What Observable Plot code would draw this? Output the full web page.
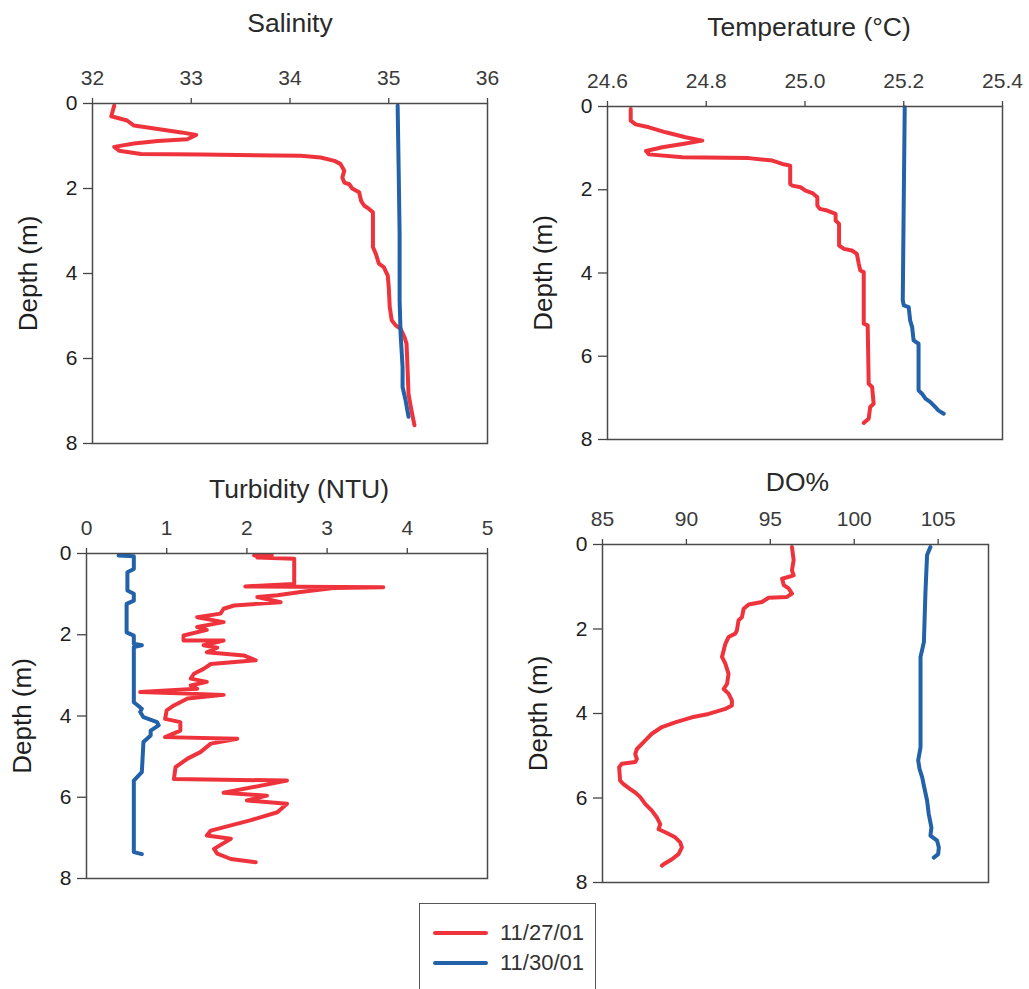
<!DOCTYPE html>
<html>
<head>
<meta charset="utf-8">
<script src="https://cdn.jsdelivr.net/npm/d3@7"></script>
<script src="https://cdn.jsdelivr.net/npm/@observablehq/plot@0.6"></script>
<style>
  html, body { margin: 0; padding: 0; background: #fff; }
  #chart { position: relative; width: 1029px; height: 989px; overflow: hidden; background: #fff;
           font-family: "Liberation Sans", Arial, Helvetica, sans-serif; color: #2a2a2a; }
  .panel { position: absolute; }
  #legend { position: absolute; left: 419px; top: 903px; width: 177px; height: 120px;
            border: 1.5px solid #555; box-sizing: border-box; }
  .lg-line { position: absolute; left: 13px; width: 55px; height: 4px; border-radius: 2px; }
  .lg-text { position: absolute; left: 80px; font-size: 22px; line-height: 22px; color: #333; }
</style>
</head>
<body>
<div id="chart"></div>
<script>
// ---- data (depth in m, value) ----
const seriesNames = ["11/27/01", "11/30/01"];
const seriesColors = ["#ef333d", "#2361a8"];
const depthTicks = [0, 2, 4, 6, 8];

const salinityTicks = [32, 33, 34, 35, 36];
const temperatureTicks = [24.6, 24.8, 25.0, 25.2, 25.4];
const turbidityTicks = [0, 1, 2, 3, 4, 5];
const doTicks = [85, 90, 95, 100, 105];

const salinity27 = [[0.05,32.22],[0.3,32.19],[0.4,32.35],[0.52,32.42],[0.6,32.66],[0.68,32.9],[0.74,33.05],[0.84,32.96],[0.88,32.66],[0.94,32.42],[1.02,32.22],[1.11,32.27],[1.19,32.49],[1.2,33.1],[1.23,34.11],[1.27,34.31],[1.35,34.45],[1.42,34.51],[1.58,34.55],[1.74,34.53],[1.86,34.55],[1.9,34.6],[2.0,34.63],[2.09,34.7],[2.29,34.72],[2.4,34.75],[2.48,34.8],[2.56,34.84],[3.38,34.84],[3.54,34.87],[3.77,34.9],[3.85,34.95],[4.05,34.99],[4.32,35.0],[4.79,35.01],[5.1,35.03],[5.22,35.07],[5.3,35.12],[5.5,35.16],[5.65,35.18],[6.2,35.19],[6.83,35.2],[7.22,35.23],[7.57,35.26]];
const salinity30 = [[0.05,35.09],[1.5,35.1],[3.07,35.11],[4.63,35.11],[5.42,35.12],[6.2,35.14],[6.67,35.14],[6.98,35.17],[7.37,35.2]];

const temperature27 = [[0.06,24.647],[0.34,24.647],[0.43,24.657],[0.5,24.684],[0.62,24.718],[0.74,24.758],[0.82,24.792],[0.9,24.752],[0.98,24.711],[1.07,24.678],[1.15,24.684],[1.22,24.752],[1.24,24.886],[1.3,24.934],[1.38,24.954],[1.42,24.97],[1.86,24.97],[1.9,24.974],[1.94,24.991],[2.02,25.001],[2.08,25.015],[2.18,25.025],[2.38,25.025],[2.46,25.03],[2.5,25.045],[2.58,25.062],[2.74,25.062],[2.82,25.069],[3.34,25.069],[3.42,25.079],[3.46,25.095],[3.54,25.105],[3.78,25.109],[3.94,25.112],[3.98,25.119],[5.22,25.119],[5.26,25.127],[6.66,25.129],[6.74,25.136],[7.14,25.139],[7.22,25.132],[7.5,25.129],[7.6,25.119]];
const temperature30 = [[0.02,25.202],[2.26,25.2],[4.66,25.198],[4.78,25.2],[4.82,25.21],[5.14,25.213],[5.3,25.217],[5.62,25.22],[5.7,25.23],[6.82,25.23],[6.9,25.237],[7.02,25.244],[7.1,25.254],[7.22,25.264],[7.3,25.27],[7.38,25.281]];

const turbidity27 = [[0.05,2.09],[0.04,2.31],[0.1,2.13],[0.13,2.59],[0.75,2.59],[0.81,1.98],[0.83,3.7],[0.85,3.08],[0.95,2.67],[1.03,2.38],[1.07,2.13],[1.2,2.42],[1.28,1.84],[1.36,1.71],[1.48,1.67],[1.57,1.38],[1.69,1.71],[1.81,1.38],[1.88,1.5],[2.02,1.21],[2.14,1.21],[2.14,1.71],[2.26,1.46],[2.32,1.63],[2.43,1.5],[2.51,1.96],[2.63,2.11],[2.72,1.55],[2.84,1.46],[2.96,1.34],[3.08,1.3],[3.16,1.5],[3.25,1.3],[3.33,1.38],[3.41,0.67],[3.48,1.71],[3.57,1.26],[3.74,1.09],[3.86,1.0],[4.07,0.98],[4.15,1.17],[4.36,1.17],[4.52,0.98],[4.56,1.88],[4.68,1.55],[4.89,1.42],[5.05,1.26],[5.26,1.11],[5.55,1.09],[5.59,2.5],[5.89,1.71],[5.96,2.25],[6.08,2.0],[6.16,2.5],[6.37,2.38],[6.57,2.04],[6.82,1.55],[6.94,1.5],[7.02,1.8],[7.27,1.59],[7.39,1.63],[7.52,1.8],[7.6,2.11]];
const turbidity30 = [[0.05,0.4],[0.07,0.59],[0.38,0.59],[0.46,0.51],[0.91,0.51],[0.99,0.59],[1.16,0.59],[1.24,0.5],[1.94,0.5],[2.02,0.59],[2.22,0.59],[2.26,0.69],[2.3,0.59],[3.66,0.59],[3.82,0.69],[3.9,0.67],[4.03,0.71],[4.15,0.88],[4.23,0.9],[4.36,0.8],[4.48,0.8],[4.64,0.71],[5.38,0.69],[5.59,0.59],[7.35,0.59],[7.4,0.69]];

const oxygen27 = [[0.06,96.29],[0.37,96.39],[0.61,96.29],[0.73,96.39],[0.81,95.7],[0.96,95.8],[1.04,96.09],[1.16,96.29],[1.24,95.99],[1.26,94.9],[1.36,94.5],[1.42,93.71],[1.52,93.41],[1.72,93.31],[1.79,93.11],[2.03,93.01],[2.11,92.91],[2.19,92.51],[2.35,92.32],[2.51,92.22],[2.66,92.12],[2.82,92.32],[3.06,92.51],[3.3,92.42],[3.42,92.22],[3.53,92.51],[3.69,92.71],[3.81,92.71],[3.89,92.32],[4.01,91.32],[4.09,90.33],[4.21,89.33],[4.32,88.54],[4.48,87.94],[4.6,87.64],[4.72,87.35],[4.84,87.05],[4.96,86.95],[5.08,87.05],[5.15,86.95],[5.19,86.15],[5.27,85.99],[5.59,86.05],[5.67,86.25],[5.79,86.65],[5.87,86.95],[5.98,87.25],[6.14,87.54],[6.3,87.94],[6.46,88.24],[6.62,88.44],[6.74,88.34],[6.81,88.74],[6.93,89.33],[7.05,89.63],[7.17,89.73],[7.33,89.53],[7.45,89.14],[7.57,88.64],[7.6,88.54]];
const oxygen30 = [[0.06,104.54],[0.25,104.34],[1.16,104.24],[2.31,104.15],[2.66,103.95],[4.8,103.95],[5.11,103.81],[5.31,103.89],[5.51,104.05],[5.71,104.15],[6.06,104.34],[6.38,104.44],[6.7,104.6],[6.89,104.54],[7.01,104.94],[7.17,105.04],[7.33,105.0],[7.41,104.74]];

const panelTitles = ["Salinity", "Temperature (°C)", "Turbidity (NTU)", "DO%"];
const depthLabel = "Depth (m)";

// ---- drawing ----
const FONT = '"Liberation Sans", Arial, Helvetica, sans-serif';

function toRows(a, b) {
  return [
    ...a.map(([d, v]) => ({depth: d, value: v, series: seriesNames[0]})),
    ...b.map(([d, v]) => ({depth: d, value: v, series: seriesNames[1]}))
  ];
}

const panels = [
  {title: panelTitles[0], data: toRows(salinity27, salinity30), domain: [32, 36], ticks: salinityTicks, fmt: d3.format("d"),
   left: 0, top: 0, width: 515, height: 460, ml: 92, mr: 28, mt: 103, mb: 17, titleDy: -80, titleDx: 0},
  {title: panelTitles[1], data: toRows(temperature27, temperature30), domain: [24.6, 25.4], ticks: temperatureTicks, fmt: d3.format(".1f"),
   left: 515, top: 0, width: 514, height: 460, ml: 92, mr: 27, mt: 106, mb: 21, titleDy: -79, titleDx: 4},
  {title: panelTitles[2], data: toRows(turbidity27, turbidity30), domain: [0, 5], ticks: turbidityTicks, fmt: d3.format("d"),
   left: 0, top: 460, width: 515, height: 440, ml: 86, mr: 28, mt: 93, mb: 22, titleDy: -64, titleDx: 12},
  {title: panelTitles[3], data: toRows(oxygen27, oxygen30), domain: [85, 108], ticks: doTicks, fmt: d3.format("d"),
   left: 515, top: 460, width: 514, height: 440, ml: 87, mr: 41, mt: 84, mb: 18, titleDy: -62, titleDx: 2}
];

const chart = document.getElementById("chart");

for (const p of panels) {
  const svg = Plot.plot({
    width: p.width,
    height: p.height,
    marginLeft: p.ml, marginRight: p.mr, marginTop: p.mt, marginBottom: p.mb,
    style: {fontFamily: FONT, background: "transparent", overflow: "visible"},
    x: {domain: p.domain},
    y: {domain: [0, 8], reverse: true},
    color: {domain: seriesNames, range: seriesColors},
    marks: [
      Plot.axisX({anchor: "top", ticks: p.ticks, tickFormat: p.fmt, tickSize: 6, tickPadding: 13,
                  fontSize: 21, label: null, stroke: "#444", fill: "#3a3a3a", strokeWidth: 1.3}),
      Plot.axisY({anchor: "left", ticks: depthTicks, tickFormat: d3.format("d"), tickSize: 9, tickPadding: 6,
                  fontSize: 21, label: null, stroke: "#444", fill: "#1e1e1e", strokeWidth: 1.3}),
      Plot.line(p.data, {x: "value", y: "depth", z: "series", stroke: "series",
                         strokeWidth: 4, strokeLinejoin: "round", strokeLinecap: "round"}),
      Plot.frame({stroke: "#4a4a4a", strokeWidth: 1.5}),
      Plot.text([p.title], {frameAnchor: "top", dy: p.titleDy, dx: p.titleDx, lineAnchor: "middle",
                            textAnchor: "middle", fontSize: 26.5, fill: "#2a2a2a"}),
      Plot.text([depthLabel], {frameAnchor: "left", dx: -64, rotate: -90, lineAnchor: "middle",
                               textAnchor: "middle", fontSize: 26, fill: "#1e1e1e"})
    ]
  });
  const wrap = document.createElement("div");
  wrap.className = "panel";
  wrap.style.left = p.left + "px";
  wrap.style.top = p.top + "px";
  wrap.appendChild(svg);
  chart.appendChild(wrap);
}

// legend
const legend = document.createElement("div");
legend.id = "legend";
seriesNames.forEach((name, i) => {
  const line = document.createElement("div");
  line.className = "lg-line";
  line.style.top = (27 + i * 30) + "px";
  line.style.background = seriesColors[i];
  const txt = document.createElement("div");
  txt.className = "lg-text";
  txt.style.top = (18 + i * 30) + "px";
  txt.textContent = name;
  legend.appendChild(line);
  legend.appendChild(txt);
});
chart.appendChild(legend);
</script>
</body>
</html>
